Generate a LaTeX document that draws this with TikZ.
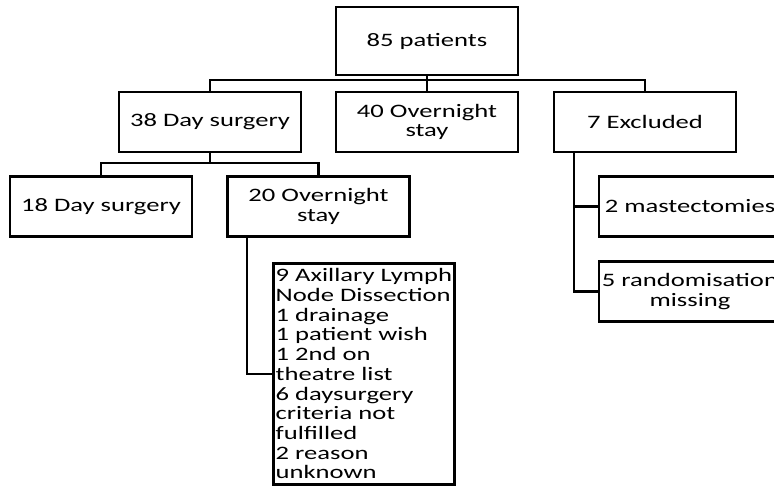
\documentclass[tikz,border=0pt]{standalone}
\usepackage{fontspec}
\setmainfont{Carlito}[FakeStretch=1.4]
\tikzset{
    flowbox/.style={draw, line width=2.7pt, minimum width=182pt, minimum height=60pt,
        inner sep=2pt, align=center, font=\fontsize{19}{19.7}\selectfont},
    notebox/.style={draw, line width=2.7pt, minimum height=221pt, minimum width=181pt,
        inner sep=2pt, align=left, font=\fontsize{19}{19.7}\selectfont},
    link/.style={line width=2.4pt}
}
\begin{document}
\begin{tikzpicture}[x=1pt,y=-1pt]
\useasboundingbox (0,0) rectangle (774,485);
\clip (0,0) rectangle (774,485);

\node[flowbox, minimum height=68pt] (all) at (427,41) {85 patients};
\node[flowbox] (day38) at (210,122) {38 Day surgery};
\node[flowbox] (ovn40) at (427,122) {40 Overnight\\stay};
\node[flowbox] (excl) at (645,122) {7 Excluded};
\node[flowbox] (day18) at (101,206.5) {18 Day surgery};
\node[flowbox] (ovn20) at (318.5,206.5) {20 Overnight\\stay};
\node[flowbox] (mast) at (690,206.5) {2 mastectomies};
\node[flowbox] (rand) at (690,291.5) {5 randomisation\\missing};
\node[notebox, anchor=north west] (reason) at (272,262) {9 Axillary Lymph\\Node Dissection\\1 drainage\\1 patient wish\\1 2nd on\\theatre list\\6 daysurgery\\criteria not\\fulfilled\\2 reason\\unknown};

\coordinate (split1) at (427,80);
\coordinate (split2) at (210,163);
\draw[link] (all.south) -- (ovn40.north);
\draw[link] (day38.north) |- (split1) -| (excl.north);
\draw[link] (day38.south) -- (split2);
\draw[link] (day18.north) |- (split2) -| (ovn20.north);
\draw[link] ([xshift=-71.5pt]ovn20.south) |- (reason.west);
\draw[link] ([xshift=-71pt]excl.south) |- (rand.west);
\draw[link] ([xshift=-71pt]excl.south |- mast.west) -- (mast.west);

\end{tikzpicture}
\end{document}
